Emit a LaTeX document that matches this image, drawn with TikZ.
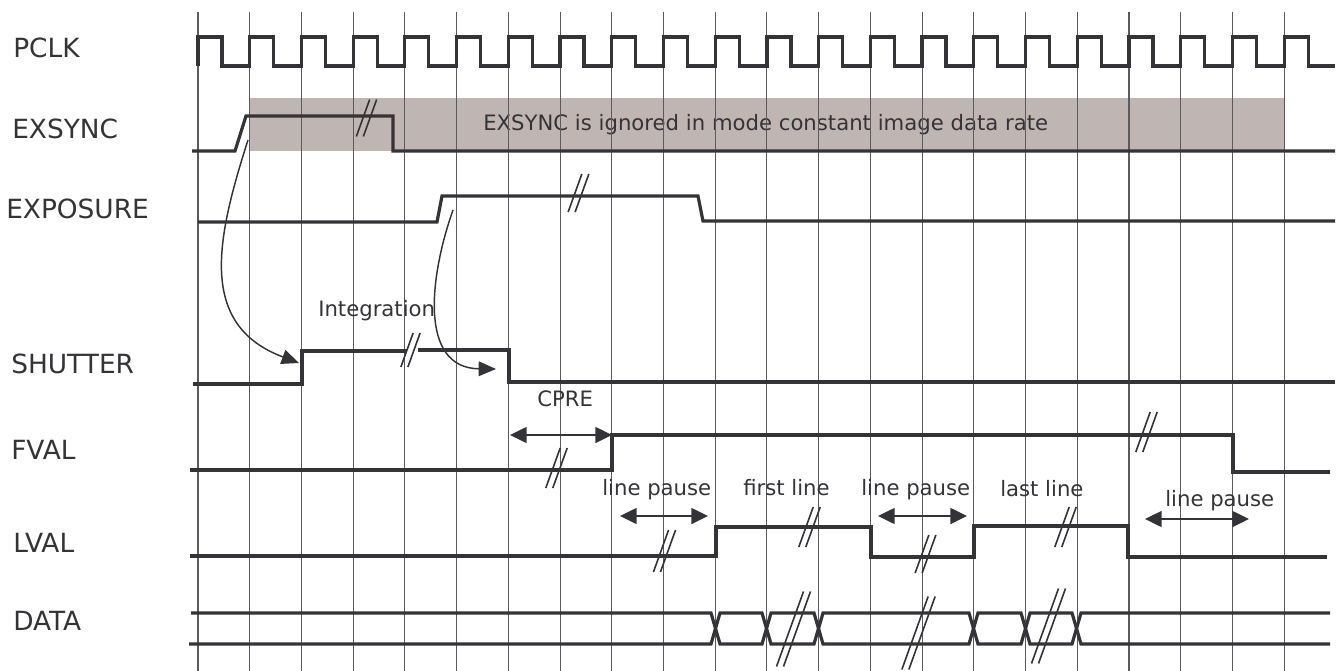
\documentclass[tikz,border=0pt]{standalone}
\usepackage{fontspec}
\setmainfont{DejaVu Sans}
\usetikzlibrary{arrows.meta}
\definecolor{ink}{RGB}{52,51,56}
\definecolor{gridc}{RGB}{90,90,95}
\definecolor{exshade}{RGB}{191,182,179}
\newcommand\brkmark[3]{%
  \draw[brkline] ({#1-3-0.18*#3},{#2+#3/2}) -- ({#1-3+0.18*#3},{#2-#3/2});
  \draw[brkline] ({#1+4-0.18*#3},{#2+#3/2}) -- ({#1+4+0.18*#3},{#2-#3/2});}
\begin{document}
\begin{tikzpicture}[x=0.75pt,y=-0.75pt,
  sig/.style={draw=ink,line width=2.4pt,line join=miter},
  gridl/.style={draw=gridc,line width=0.8pt},
  brkline/.style={draw=ink,line width=1.2pt},
  lbl/.style={anchor=base west,inner sep=0pt,text=ink,font=\fontsize{19.8pt}{22pt}\selectfont},
  note/.style={anchor=base west,inner sep=0pt,text=ink,font=\fontsize{15.9pt}{18pt}\selectfont},
  dim/.style={draw=ink,line width=1.1pt,{Triangle[length=12.5pt,width=12pt]}-{Triangle[length=12.5pt,width=12pt]}},
  curv/.style={draw=ink,line width=1.1pt,-{Triangle[length=13pt,width=11pt]}}]
\useasboundingbox (0,0) rectangle (1342,671);
% shading
\fill[exshade] (250,98) rectangle (1284,151);
\node[note] (ign) at (483,130) {EXSYNC is ignored in mode constant image data rate};
% grid
\foreach \k in {0,...,21} \draw[gridl] ({198+51.72*\k},12) -- ({198+51.72*\k},671);
% labels
\node[lbl] (lpclk) at (13,57) {PCLK};
\node[lbl] (lexs) at (12,138) {EXSYNC};
\node[lbl] (lexp) at (6,218) {EXPOSURE};
\node[lbl] (lsh) at (11,373) {SHUTTER};
\node[lbl] (lfv) at (11,459) {FVAL};
\node[lbl] (llv) at (13,552) {LVAL};
\node[lbl] (ldat) at (13,630) {DATA};
% PCLK
\draw[sig] (198,66) \foreach \k in {0,...,21}{ -- ({198+51.72*\k},66) -- ({198+51.72*\k},37) -- ({222+51.72*\k},37) -- ({222+51.72*\k},66)} -- (1335,66);
% EXSYNC
\draw[sig] (192,151) -- (235,151) -- (246,116) -- (393,116) -- (393,151) -- (1335,151);
\brkmark{366}{118}{37}
% EXPOSURE
\draw[sig] (198,222) -- (437,222) -- (442,196) -- (698,196) -- (703,221) -- (1335,221);
\brkmark{578}{193}{38}
% SHUTTER
\draw[sig] (193,384) -- (302,384) -- (302,351) -- (407,351);
\draw[sig] (418,350) -- (509,350) -- (509,382) -- (1335,382);
\brkmark{410}{350}{34}
% FVAL
\draw[sig] (190,470) -- (612,470) -- (612,435) -- (1233,435) -- (1233,472) -- (1330,472);
\brkmark{556}{468}{40}
\brkmark{1146}{432}{40}
% LVAL
\draw[sig] (190,556) -- (716,556) -- (716,527) -- (871,527) -- (871,557) -- (974,557) -- (974,526) -- (1128,526) -- (1128,557) -- (1327,557);
\brkmark{664}{551}{42}
\brkmark{809}{527}{40}
\brkmark{925}{554}{38}
\brkmark{1065}{527}{40}
% DATA
\draw[sig] (191,613) -- (711,613) -- (720,644) -- (762,644) -- (771,613) -- (814,613) -- (823,644) -- (969,644) -- (978,613) -- (1021,613) -- (1030,644) -- (1072,644) -- (1081,613) -- (1330,613);
\draw[sig] (189,644) -- (711,644) -- (720,613) -- (762,613) -- (771,644) -- (814,644) -- (823,613) -- (969,613) -- (978,644) -- (1021,644) -- (1030,613) -- (1072,613) -- (1081,644) -- (1330,644);
\brkmark{793}{629}{75}
\brkmark{918}{633}{73}
\brkmark{1048}{626}{75}
% texts
\node[note] (integ) at (318,316) {Integration};
\node[note] (cpre) at (537,406) {CPRE};
\node[note] (lp1) at (602,495) {line pause};
\node[note] (fl) at (743,495) {first line};
\node[note] (lp2) at (861,495) {line pause};
\node[note] (ll) at (1000,496) {last line};
\node[note] (lp3) at (1165,506) {line pause};
% dimension arrows
\coordinate (c1a) at (510,435); \coordinate (c1b) at (612,435);
\draw[dim] (c1a) -- (c1b);
\coordinate (p1a) at (620,516); \coordinate (p1b) at (708,516);
\draw[dim] (p1a) -- (p1b);
\coordinate (p2a) at (878,516); \coordinate (p2b) at (967,516);
\draw[dim] (p2a) -- (p2b);
\coordinate (p3a) at (1145,519); \coordinate (p3b) at (1249,519);
\draw[dim] (p3a) -- (p3b);
% curved arrows
\coordinate (s1) at (248,140); \coordinate (e1) at (299,363);
\draw[curv] (s1) .. controls (216,240) and (198,325) .. (e1);
\coordinate (s2) at (453,210); \coordinate (e2) at (496,369);
\draw[curv] (s2) .. controls (430,275) and (418,368) .. (e2);
\end{tikzpicture}
\end{document}
